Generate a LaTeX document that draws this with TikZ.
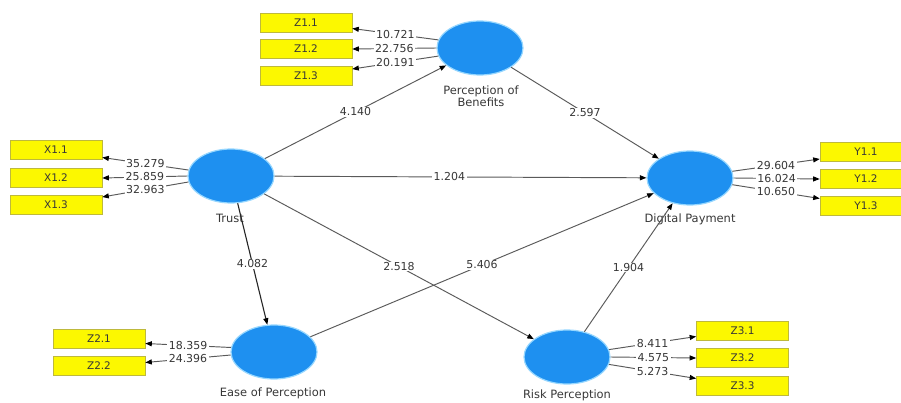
\documentclass[tikz,border=0pt]{standalone}
\usepackage{fontspec}
\setmainfont{DejaVu Sans}
\usetikzlibrary{shapes.geometric,arrows.meta,calc}
\definecolor{lvblue}{RGB}{30,144,240}
\definecolor{lvglow}{RGB}{150,215,255}
\definecolor{indyellow}{RGB}{252,248,0}
\definecolor{indborder}{RGB}{190,185,60}
\definecolor{linegray}{RGB}{90,90,90}
\definecolor{txtgray}{RGB}{55,55,55}
\begin{document}
\begin{tikzpicture}[x=1bp,y=1bp,
  lv/.style={ellipse, fill=lvblue, draw=lvglow, line width=1.2bp, minimum width=86bp, minimum height=54bp, inner sep=0pt},
  ind/.style={rectangle, fill=indyellow, draw=indborder, line width=0.6bp, minimum width=92bp, minimum height=19bp, inner sep=0pt, font=\fontsize{10.5}{12}\selectfont, text=txtgray},
  lbl/.style={font=\fontsize{11.5}{12}\selectfont, text=txtgray, align=center, inner sep=0pt},
  conn/.style={draw=linegray, line width=0.95bp, -{Triangle[length=6.5bp,width=5bp,color=black]}},
  val/.style={fill=white, inner xsep=1.5bp, inner ysep=0.8bp, font=\fontsize{11}{12}\selectfont, text=txtgray, pos=0.5}
]
\useasboundingbox[fill=white] (0,0) rectangle (901,402);

% latent variables
\node[lv] (pb) at (480,354) {};
\node[lv] (trust) at (231,226) {};
\node[lv] (dp) at (690,224) {};
\node[lv] (eop) at (274,50) {};
\node[lv] (rp) at (567,45) {};

% latent labels
\node[lbl] (pbl) at (481,306) {Perception of\\Benefits};
\node[lbl] (trustl) at (230,184) {Trust};
\node[lbl] (dpl) at (690,183) {Digital Payment};
\node[lbl] (eopl) at (273,9) {Ease of Perception};
\node[lbl] (rpl) at (567,7) {Risk Perception};

% indicators
\node[ind] (z11) at (306,379.5) {Z1.1};
\node[ind] (z12) at (306,353) {Z1.2};
\node[ind] (z13) at (306,326) {Z1.3};
\node[ind] (x11) at (56,252.5) {X1.1};
\node[ind] (x12) at (56,224) {X1.2};
\node[ind] (x13) at (56,197) {X1.3};
\node[ind] (y11) at (866,250) {Y1.1};
\node[ind] (y12) at (866,223) {Y1.2};
\node[ind] (y13) at (866,196.5) {Y1.3};
\node[ind] (z21) at (99,63.5) {Z2.1};
\node[ind] (z22) at (99,36.5) {Z2.2};
\node[ind] (z31) at (742.5,71.5) {Z3.1};
\node[ind] (z32) at (742.5,44) {Z3.2};
\node[ind] (z33) at (742.5,16.5) {Z3.3};

% outer loadings
\draw[conn] (pb.169) -- node[val]{10.721} ($(z11.east)+(0,-6bp)$);
\draw[conn] (pb.180) -- node[val]{22.756} (z12.east);
\draw[conn] (pb.191) -- node[val]{20.191} ($(z13.east)+(0,7bp)$);

\draw[conn] (trust.172) -- node[val]{35.279} ($(x11.east)+(0,-8bp)$);
\draw[conn] (trust.180) -- node[val]{25.859} (x12.east);
\draw[conn] (trust.188) -- node[val]{32.963} ($(x13.east)+(0,8bp)$);

\draw[conn] (dp.9) -- node[val]{29.604} ($(y11.west)+(0,-7bp)$);
\draw[conn] (dp.0) -- node[val]{16.024} (y12.west);
\draw[conn] (dp.-9) -- node[val]{10.650} ($(y13.west)+(0,7bp)$);

\draw[conn] (eop.174) -- node[val]{18.359} ($(z21.east)+(0,-5bp)$);
\draw[conn] (eop.184) -- node[val]{24.396} ($(z22.east)+(0,3bp)$);

\draw[conn] (rp.10) -- node[val]{8.411} ($(z31.west)+(0,-6bp)$);
\draw[conn] (rp.0) -- node[val]{4.575} (z32.west);
\draw[conn] (rp.-10) -- node[val]{5.273} ($(z33.west)+(0,7bp)$);

% structural paths
\draw[conn] (trust) -- node[val]{4.140} (pb);
\draw[conn] (pb) -- node[val]{2.597} (dp);
\draw[conn] (trust) -- node[val,pos=0.47]{1.204} (dp);
\draw[conn,draw=black!85,line width=1.1bp] (trust) -- node[val]{4.082} (eop);
\draw[conn] (trust) -- node[val]{2.518} (rp);
\draw[conn] (eop) -- node[val]{5.406} (dp);
\draw[conn] (rp) -- node[val]{1.904} (dp);
\end{tikzpicture}
\end{document}
